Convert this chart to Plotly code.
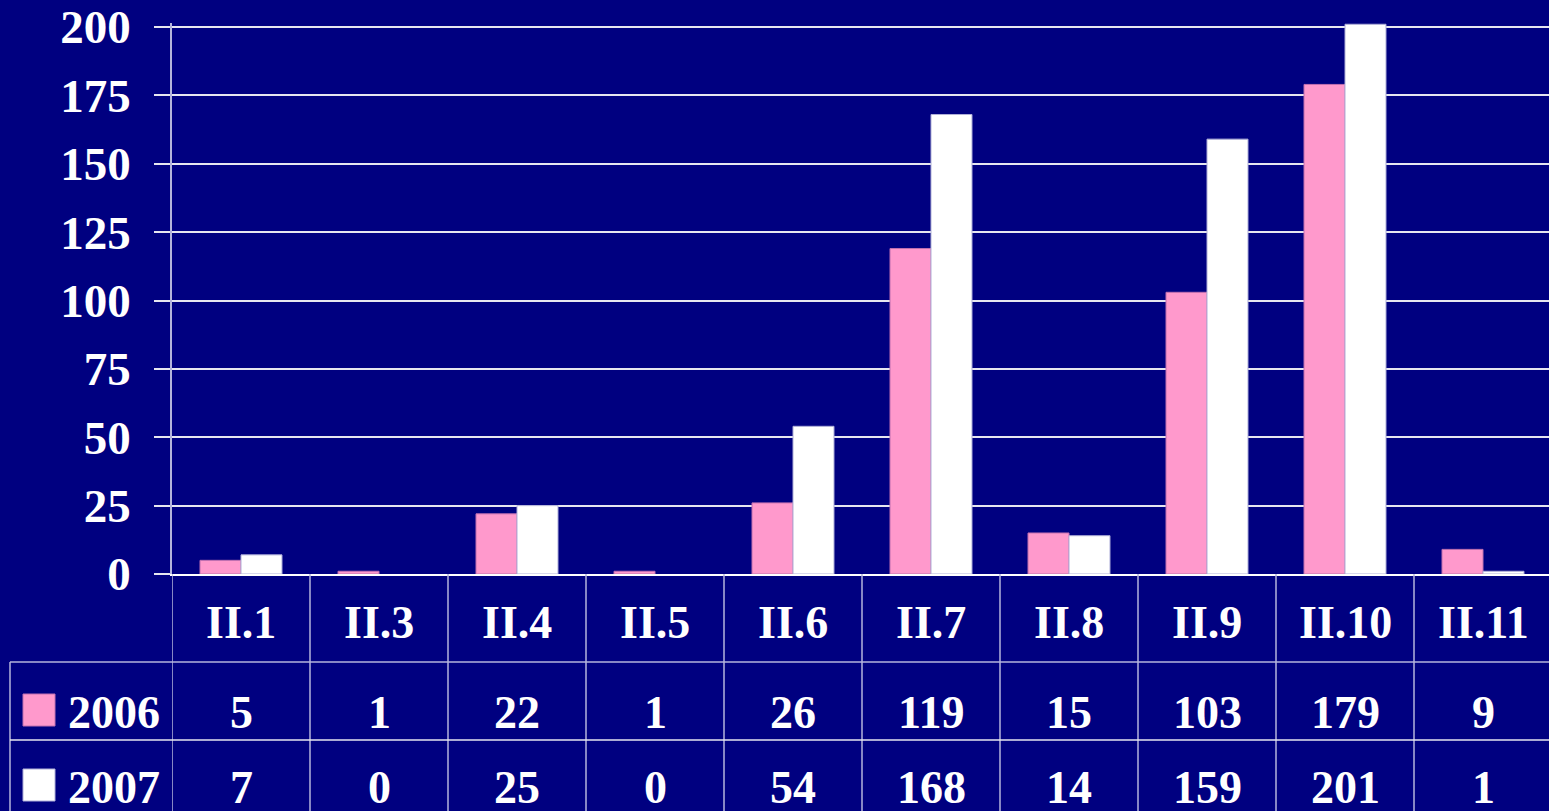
import plotly.graph_objects as go

categories = ["II.1", "II.3", "II.4", "II.5", "II.6", "II.7", "II.8", "II.9", "II.10", "II.11"]
years = ["2006", "2007"]
values_2006 = [5, 1, 22, 1, 26, 119, 15, 103, 179, 9]
values_2007 = [7, 0, 25, 0, 54, 168, 14, 159, 201, 1]
y_ticks = [0, 25, 50, 75, 100, 125, 150, 175, 200]

BG = "#000080"
PINK = "#FF99CC"
WHITE = "#FFFFFF"
LINE = "#B4B4DC"
FONT = "Liberation Serif"
W, H = 1549, 811

x_idx = list(range(len(categories)))
series = [(years[0], values_2006, PINK, "#C070B0"), (years[1], values_2007, WHITE, "#B0B0D8")]

fig = go.Figure()
for name, vals, col, edge in series:
    fig.add_trace(go.Bar(x=x_idx, y=vals, name=name,
                         marker=dict(color=col, line=dict(color=edge, width=[1 if v > 0 else 0 for v in vals]))))

# layout geometry (paper fractions)
x0 = 172 / W
y_bot = (H - 574) / H
y_top = (H - 23) / H
row1 = (H - 662) / H
row2 = (H - 740) / H
left_edge = 10 / W

fig.update_layout(
    width=W, height=H,
    margin=dict(l=0, r=0, t=0, b=0, pad=0),
    paper_bgcolor=BG, plot_bgcolor=BG,
    barmode="group", bargap=0.406, bargroupgap=0,
    showlegend=False,
    font=dict(family=FONT, color="white", size=46),
    xaxis=dict(domain=[x0, 1], range=[-0.5, 9.5 - 3 / 138], showticklabels=False, automargin=False,
               showgrid=False, zeroline=False, showline=True, linecolor="white", linewidth=2, ticks=""),
    yaxis=dict(domain=[y_bot, y_top], range=[0, 200 + 4 / 2.735], tickvals=y_ticks,
               ticktext=[str(v) for v in y_ticks], automargin=False,
               showgrid=True, gridcolor="#E6E6F0", gridwidth=1.5, zeroline=False,
               showline=True, linecolor=LINE, linewidth=1.5,
               ticks="outside", ticklen=16, tickcolor="#E6E6F0", tickwidth=1.5,
               ticklabelstandoff=14,
               tickfont=dict(family=FONT, size=47, color="white", weight="bold")),
)

shapes = []
# vertical table lines at category boundaries
for i in range(len(categories) + 1):
    shapes.append(dict(type="line", xref="x", yref="paper", x0=i - 0.5, x1=i - 0.5, y0=0, y1=y_bot,
                       line=dict(color=LINE, width=1.5)))
# left border of legend column
shapes.append(dict(type="line", xref="paper", yref="paper", x0=left_edge, x1=left_edge, y0=0, y1=row1,
                   line=dict(color=LINE, width=1.5)))
# horizontal row lines
shapes.append(dict(type="line", xref="paper", yref="paper", x0=left_edge, x1=1, y0=row1, y1=row1,
                   line=dict(color=LINE, width=1.5)))
shapes.append(dict(type="line", xref="paper", yref="paper", x0=left_edge, x1=1, y0=row2, y1=row2,
                   line=dict(color="#E6E6F0", width=1.5)))

annotations = []
font_b = dict(family=FONT, size=46, color="white", weight="bold")
hdr_y = (H - 622) / H
row_ys = [(H - 712) / H, (H - 787) / H]
for i, c in enumerate(categories):
    annotations.append(dict(xref="x", yref="paper", x=i, y=hdr_y, text=c, showarrow=False, font=font_b,
                            xanchor="center", yanchor="middle"))
for r, (name, vals, col, edge) in enumerate(series):
    for i, v in enumerate(vals):
        annotations.append(dict(xref="x", yref="paper", x=i, y=row_ys[r], text=str(v), showarrow=False,
                                font=font_b, xanchor="center", yanchor="middle"))
    # legend key square
    sq = 32
    yc = row_ys[r] * H
    shapes.append(dict(type="rect", xref="paper", yref="paper", x0=23 / W, x1=(23 + sq) / W,
                       y0=(yc - sq / 2 + 2) / H, y1=(yc + sq / 2 + 2) / H,
                       fillcolor=col, line=dict(color=edge, width=1)))
    annotations.append(dict(xref="paper", yref="paper", x=66 / W, y=row_ys[r], text=name, showarrow=False,
                            font=font_b, xanchor="left", yanchor="middle"))

fig.update_layout(shapes=shapes, annotations=annotations)
fig.write_html("out.html", config={"displayModeBar": False},
               post_script="document.body.style.margin='0';document.body.style.overflow='hidden';document.body.style.background='#000080';")
